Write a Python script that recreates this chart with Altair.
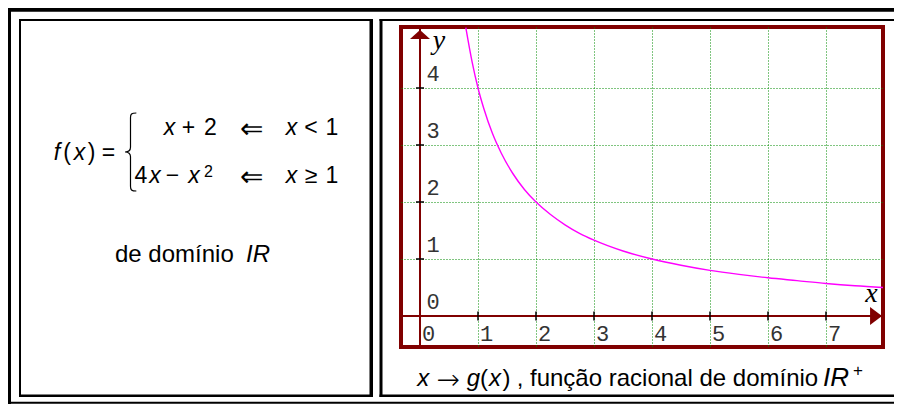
import altair as alt
import pandas as pd

# ---------------- data ----------------
CURVE_X = [0.79, 0.9, 1.0, 1.1, 1.25, 1.4, 1.6, 1.8, 2.0, 2.25, 2.5, 2.75,
           3.0, 3.5, 4.0, 4.5, 5.0, 5.5, 6.0, 6.5, 7.0, 7.5, 8.0]
CURVE_Y = [5.06, 4.45, 4.0, 3.64, 3.2, 2.86, 2.5, 2.22, 2.0, 1.78, 1.6, 1.45,
           1.33, 1.14, 1.0, 0.89, 0.8, 0.73, 0.67, 0.62, 0.57, 0.53, 0.5]
X_TICKS = [0, 1, 2, 3, 4, 5, 6, 7]
Y_TICKS = [0, 1, 2, 3, 4]
X_GRID = [1, 2, 3, 4, 5, 6, 7]
Y_GRID = [1, 2, 3, 4]
X_DOMAIN = [-0.3276, 7.9828]
Y_DOMAIN = [-0.5439, 5.0702]

# ---------------- texts ----------------
FORMULA_LHS = ["f", "(", "x", ")", "="]
ROW1 = ["x", "+", "2", "\u21d0", "x", "<", "1"]
ROW2 = ["4", "x", "\u2212", "x", "2", "\u21d0", "x", "\u2265", "1"]
DOMAIN_LEFT = ["de domínio", "IR"]
CAPTION = ["x", "\u2192", "g", "(", "x", ")", ",", "função racional de domínio", "IR", "+"]
AXIS_NAMES = ["x", "y"]

# ---------------- styles / layout ----------------
SANS = "Liberation Sans, Arial, DejaVu Sans, sans-serif"
SERIF = "Liberation Serif, Times New Roman, serif"
MONO = "Liberation Mono, DejaVu Sans Mono, monospace"
ARROWS = "DejaVu Sans, sans-serif"
DARKRED = "#800000"
GREEN = "#008a00"
MAGENTA = "#ff00ff"

X0, Y0 = 401, 27          # page position of the plot area's top-left corner
PW, PH = 482, 320         # plot area (graph frame)
TOTAL_W, TOTAL_H = 886, 398

dummy = alt.Data(values=[{"d": 0}])

XS = alt.Scale(domain=X_DOMAIN, nice=False, zero=False)
YS = alt.Scale(domain=Y_DOMAIN, nice=False, zero=False)
AX = alt.Axis(values=X_GRID, grid=True, gridColor=GREEN, gridDash=[1, 2],
              gridWidth=1, labels=False, ticks=False, domain=False, title=None)
AY = alt.Axis(values=Y_GRID, grid=True, gridColor=GREEN, gridDash=[1, 2],
              gridWidth=1, labels=False, ticks=False, domain=False, title=None)


def T(s, x, y, size=23, italic=False, font=SANS, align="center", color="black", weight="normal"):
    return alt.Chart(dummy).mark_text(
        text=s, font=font, fontSize=size,
        fontStyle="italic" if italic else "normal", fontWeight=weight,
        align=align, baseline="alphabetic", color=color,
    ).encode(x=alt.value(x - X0), y=alt.value(y - Y0))


def R(x1, x2, y1, y2, color="black"):
    return alt.Chart(dummy).mark_rect(color=color, opacity=1).encode(
        x=alt.value(x1 - X0), x2=alt.value(x2 - X0),
        y=alt.value(y1 - Y0), y2=alt.value(y2 - Y0))


layers = []

# table borders
layers += [
    R(6, 902, 6.7, 11.7), R(6, 11, 6.7, 404), R(6, 902, 401.7, 403.7),
    R(19, 373, 19, 21), R(19, 21, 19, 397), R(19, 373, 394.5, 397), R(369.5, 373, 19, 397),
    R(379.5, 902, 19, 21), R(379.5, 382.5, 19, 397), R(379.5, 902, 394.5, 397), R(900, 902, 19, 397),
]

# curve
curve = pd.DataFrame({"x": CURVE_X, "y": CURVE_Y})
layers.append(
    alt.Chart(curve).mark_line(color=MAGENTA, strokeWidth=1.4, clip=True, interpolate="monotone")
    .encode(x=alt.X("x:Q", scale=XS, axis=AX), y=alt.Y("y:Q", scale=YS, axis=AY))
)

# axis lines
axes_df = pd.DataFrame({"x": [0, X_DOMAIN[0]], "x2": [0, X_DOMAIN[1]],
                        "y": [Y_DOMAIN[0], 0], "y2": [Y_DOMAIN[1], 0]})
layers.append(
    alt.Chart(axes_df).mark_rule(color=DARKRED, strokeWidth=2)
    .encode(x=alt.X("x:Q", scale=XS, axis=AX), x2="x2:Q",
            y=alt.Y("y:Q", scale=YS, axis=AY), y2="y2:Q")
)

# tick marks on the axes
xt = pd.DataFrame({"x": X_GRID, "y": [0] * len(X_GRID)})
yt = pd.DataFrame({"x": [0] * len(Y_GRID), "y": Y_GRID})
layers.append(
    alt.Chart(xt).mark_tick(orient="vertical", size=9, thickness=1.5, color="black", opacity=1)
    .encode(x=alt.X("x:Q", scale=XS, axis=AX), y=alt.Y("y:Q", scale=YS, axis=AY))
)
layers.append(
    alt.Chart(yt).mark_tick(orient="horizontal", size=8, thickness=1.5, color="black", opacity=1)
    .encode(x=alt.X("x:Q", scale=XS, axis=AX), y=alt.Y("y:Q", scale=YS, axis=AY))
)

# arrow heads
layers.append(
    alt.Chart(pd.DataFrame({"x": [0], "y": [Y_DOMAIN[1]]}))
    .mark_point(shape="M-1,1.2L0,0.3L1,1.2Z", size=400, filled=True, color=DARKRED,
                opacity=1, strokeWidth=0)
    .encode(x=alt.X("x:Q", scale=XS, axis=AX), y=alt.Y("y:Q", scale=YS, axis=AY))
)
layers.append(
    alt.Chart(pd.DataFrame({"x": [X_DOMAIN[1]], "y": [0]}))
    .mark_point(shape="M-1.44,-1L-0.11,0L-1.44,1Z", size=324, filled=True, color=DARKRED,
                opacity=1, strokeWidth=0)
    .encode(x=alt.X("x:Q", scale=XS, axis=AX), y=alt.Y("y:Q", scale=YS, axis=AY))
)

# tick labels
xl = pd.DataFrame({"x": X_TICKS, "y": [0] * len(X_TICKS), "t": [str(v) for v in X_TICKS]})
yl = pd.DataFrame({"x": [0] * len(Y_TICKS), "y": Y_TICKS, "t": [str(v) for v in Y_TICKS]})
layers.append(
    alt.Chart(xl).mark_text(font=MONO, fontSize=22, color="#333", align="center",
                            baseline="middle", dx=8.5, dy=18)
    .encode(x=alt.X("x:Q", scale=XS, axis=AX), y=alt.Y("y:Q", scale=YS, axis=AY), text="t:N")
)
layers.append(
    alt.Chart(yl).mark_text(font=MONO, fontSize=22, color="#333", align="center",
                            baseline="middle", dx=13, dy=-14)
    .encode(x=alt.X("x:Q", scale=XS, axis=AX), y=alt.Y("y:Q", scale=YS, axis=AY), text="t:N")
)

# axis names
layers.append(T(AXIS_NAMES[1], 439, 49, size=28, italic=True, font=SERIF))
layers.append(T(AXIS_NAMES[0], 871.5, 302, size=28, italic=True, font=SERIF))

# ----- left panel: piecewise formula -----
lhs_x = [57, 67, 79.5, 91.5, 108.5]
lhs_it = [True, False, True, False, False]
for s, x, it in zip(FORMULA_LHS, lhs_x, lhs_it):
    layers.append(T(s, x, 160, italic=it))

r1_x = [169.5, 188.5, 210.5, 251.5, 291.5, 311, 332]
r1_it = [True, False, False, False, True, False, False]
for i, (s, x, it) in enumerate(zip(ROW1, r1_x, r1_it)):
    if i == 3:
        layers.append(T(s, x, 137.5, size=28, font=ARROWS, weight=200))
    else:
        layers.append(T(s, x, 135, italic=it))

r2_x = [141, 155, 172.5, 194, 208.5, 251.5, 291.5, 311, 332]
r2_it = [False, True, False, True, False, False, True, False, False]
for i, (s, x, it) in enumerate(zip(ROW2, r2_x, r2_it)):
    if i == 4:  # exponent
        layers.append(T(s, x, 176.5, size=16))
    elif i == 5:
        layers.append(T(s, x, 185.5, size=28, font=ARROWS, weight=200))
    else:
        layers.append(T(s, x, 183, italic=it))

# brace
layers.append(
    alt.Chart(dummy).mark_point(
        shape="M0.15,-1C0.02,-1 0,-0.97 0,-0.88L0,-0.12C0,-0.04 -0.05,0 -0.14,0"
              "C-0.05,0 0,0.04 0,0.12L0,0.88C0,0.97 0.02,1 0.15,1",
        size=6084, filled=False, color="black", strokeWidth=1.2, opacity=1)
    .encode(x=alt.value(130.5 - X0), y=alt.value(152 - Y0))
)

layers.append(T(DOMAIN_LEFT[0], 115, 262, size=24, align="left"))
layers.append(T(DOMAIN_LEFT[1], 246, 262, size=24, italic=True, align="left"))

# ----- caption under the graph -----
cap_x = [423.3, 448.3, 473.3, 484, 495, 506.5, 520, 530, 823, 858]
cap_it = [True, False, True, False, True, False, False, False, True, False]
for i, (s, x, it) in enumerate(zip(CAPTION, cap_x, cap_it)):
    if i == 1:
        layers.append(T(s, x, 388.5, size=28, font=ARROWS, weight=200))
    elif i == 7:
        layers.append(T(s, x, 386, size=24, align="left"))
    elif i == 8:
        layers.append(T(s, x, 386, size=26, italic=True, align="left"))
    elif i == 9:
        layers.append(T(s, x, 376, size=17))
    else:
        layers.append(T(s, x, 386, size=24, italic=it))

chart = alt.layer(*layers).properties(
    width=PW, height=PH,
    padding={"left": X0 - 8, "top": Y0 - 8,
             "right": TOTAL_W - (X0 - 8) - PW, "bottom": TOTAL_H - (Y0 - 8) - PH},
    autosize=alt.AutoSizeParams(type="none"),
    background="white",
).configure_view(stroke=DARKRED, strokeWidth=4)

chart.save("out.html", embed_options={"renderer": "svg", "actions": False})
